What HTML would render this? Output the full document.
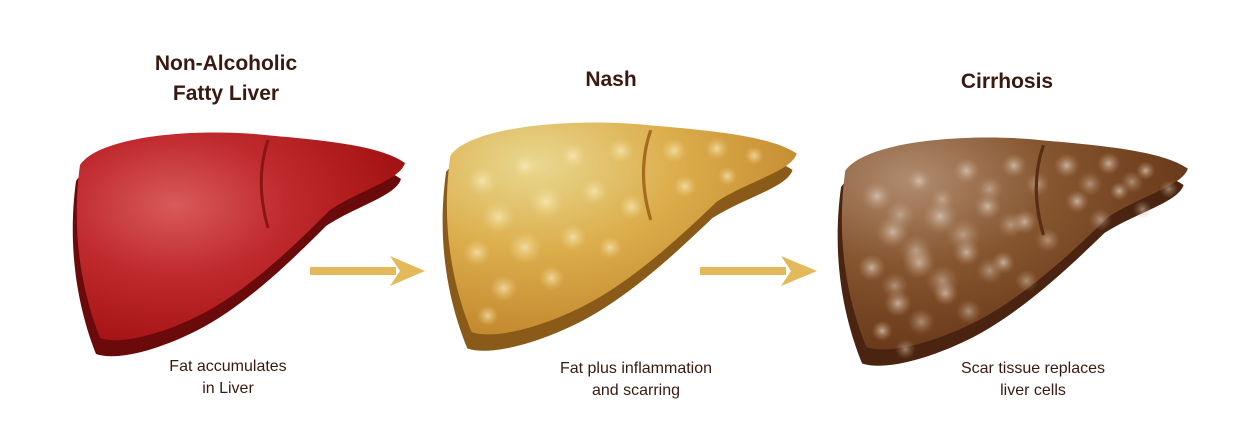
<!DOCTYPE html>
<html><head><meta charset="utf-8"><style>
html,body{margin:0;padding:0;background:#fff;width:1238px;height:444px;overflow:hidden}
svg{display:block}
.t{font-family:"Liberation Sans",sans-serif;font-weight:bold;font-size:21px;fill:#3a1a10;text-anchor:middle}
.c{font-family:"Liberation Sans",sans-serif;font-size:16px;fill:#3a1a10;text-anchor:middle}
</style></head><body>
<svg width="1238" height="444" viewBox="0 0 1238 444">
<defs>
<path id="L" d="M 80 165 C 100 135, 200 128, 265 135 C 320 140, 380 145, 405 163 C 400 180, 360 190, 330 210 C 300 240, 250 290, 200 315 C 160 335, 120 345, 100 338 C 85 300, 70 240, 80 165 Z"/>
<radialGradient id="g1" cx="0.3" cy="0.35" r="0.75"><stop offset="0" stop-color="#d85a5a"/><stop offset="0.45" stop-color="#c02a2e"/><stop offset="1" stop-color="#a01010"/></radialGradient>
<radialGradient id="g2" cx="0.25" cy="0.2" r="0.8"><stop offset="0" stop-color="#e8d890"/><stop offset="0.5" stop-color="#dcae4c"/><stop offset="1" stop-color="#c48a30"/></radialGradient>
<radialGradient id="g3" cx="0.2" cy="0.2" r="0.8"><stop offset="0" stop-color="#b08c70"/><stop offset="0.5" stop-color="#865630"/><stop offset="1" stop-color="#6a3a1a"/></radialGradient>
<radialGradient id="s2"><stop offset="0" stop-color="#fff3c8" stop-opacity="0.8"/><stop offset="1" stop-color="#f0d890" stop-opacity="0"/></radialGradient>
<radialGradient id="s3"><stop offset="0" stop-color="#e0d0c0" stop-opacity="0.75"/><stop offset="1" stop-color="#b89070" stop-opacity="0"/></radialGradient>
<g id="sp">
<circle cx="110" cy="190" r="15"/><circle cx="150" cy="175" r="12"/><circle cx="195" cy="165" r="13"/><circle cx="240" cy="160" r="12"/>
<circle cx="125" cy="225" r="16"/><circle cx="170" cy="210" r="17"/><circle cx="215" cy="200" r="13"/><circle cx="250" cy="215" r="12"/>
<circle cx="105" cy="260" r="13"/><circle cx="150" cy="255" r="16"/><circle cx="195" cy="245" r="13"/><circle cx="230" cy="255" r="11"/>
<circle cx="130" cy="295" r="13"/><circle cx="175" cy="285" r="12"/><circle cx="115" cy="322" r="10"/>
<circle cx="290" cy="160" r="12"/><circle cx="330" cy="158" r="11"/><circle cx="365" cy="165" r="9"/><circle cx="300" cy="195" r="11"/><circle cx="340" cy="185" r="9"/>
</g>
</defs>
<text class="t" x="226" y="70">Non-Alcoholic</text>
<text class="t" x="226" y="100">Fatty Liver</text>
<text class="t" x="611" y="86">Nash</text>
<text class="t" x="1007" y="88">Cirrhosis</text>

<g>
<use href="#L" fill="#6a0a0a" transform="translate(-4,16)"/>
<use href="#L" fill="url(#g1)"/>
<path d="M268 140 C 258 170, 260 200, 268 228" stroke="#8a1515" stroke-width="3" fill="none"/>
</g>
<g transform="translate(445,120) scale(1.066,1.02) translate(-75,-130)">
<use href="#L" fill="#8a5a18" transform="translate(-4,16)"/>
<use href="#L" fill="url(#g2)"/>
<use href="#sp" fill="url(#s2)" opacity="0.8"/>
<path d="M268 140 C 258 170, 260 200, 268 228" stroke="#a86a20" stroke-width="3" fill="none"/>
</g>
<g transform="translate(840,135) scale(1.054,1.02) translate(-75,-130)">
<use href="#L" fill="#4a2410" transform="translate(-4,16)"/>
<use href="#L" fill="url(#g3)"/>
<use href="#sp" fill="url(#s3)"/>
<use href="#sp" fill="url(#s3)" transform="translate(22,18)" opacity="0.7"/>
<path d="M268 140 C 258 170, 260 200, 268 228" stroke="#5a2e14" stroke-width="3" fill="none"/>
</g>

<g fill="#e3b95a">
<rect x="310" y="267" width="86" height="8"/><polygon points="390,256 425,271 390,286 400,271"/>
<rect x="700" y="267" width="86" height="8"/><polygon points="781,256 817,271 781,286 791,271"/>
</g>

<text class="c" x="228" y="371">Fat accumulates</text>
<text class="c" x="228" y="393">in Liver</text>
<text class="c" x="636" y="373">Fat plus inflammation</text>
<text class="c" x="636" y="395">and scarring</text>
<text class="c" x="1033" y="373">Scar tissue replaces</text>
<text class="c" x="1033" y="395">liver cells</text>
</svg>
</body></html>
